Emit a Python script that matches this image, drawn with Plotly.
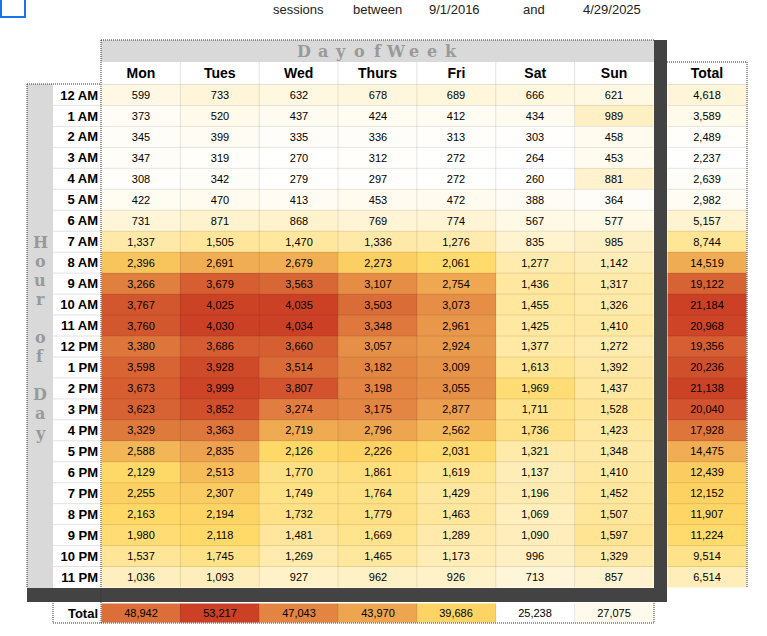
import numpy as np
import plotly.graph_objects as go

W, H = 767, 636

days = ["Mon", "Tues", "Wed", "Thurs", "Fri", "Sat", "Sun"]
hours = ["12 AM", "1 AM", "2 AM", "3 AM", "4 AM", "5 AM", "6 AM", "7 AM", "8 AM", "9 AM",
         "10 AM", "11 AM", "12 PM", "1 PM", "2 PM", "3 PM", "4 PM", "5 PM", "6 PM", "7 PM",
         "8 PM", "9 PM", "10 PM", "11 PM"]

mon = [599, 373, 345, 347, 308, 422, 731, 1337, 2396, 3266, 3767, 3760, 3380, 3598, 3673, 3623,
       3329, 2588, 2129, 2255, 2163, 1980, 1537, 1036]
tues = [733, 520, 399, 319, 342, 470, 871, 1505, 2691, 3679, 4025, 4030, 3686, 3928, 3999, 3852,
        3363, 2835, 2513, 2307, 2194, 2118, 1745, 1093]
wed = [632, 437, 335, 270, 279, 413, 868, 1470, 2679, 3563, 4035, 4034, 3660, 3514, 3807, 3274,
       2719, 2126, 1770, 1749, 1732, 1481, 1269, 927]
thurs = [678, 424, 336, 312, 297, 453, 769, 1336, 2273, 3107, 3503, 3348, 3057, 3182, 3198, 3175,
         2796, 2226, 1861, 1764, 1779, 1669, 1465, 962]
fri = [689, 412, 313, 272, 272, 472, 774, 1276, 2061, 2754, 3073, 2961, 2924, 3009, 3055, 2877,
       2562, 2031, 1619, 1429, 1463, 1289, 1173, 926]
sat = [666, 434, 303, 264, 260, 388, 567, 835, 1277, 1436, 1455, 1425, 1377, 1613, 1969, 1711,
       1736, 1321, 1137, 1196, 1069, 1090, 996, 713]
sun = [621, 989, 458, 453, 881, 364, 577, 985, 1142, 1317, 1326, 1410, 1272, 1392, 1437, 1528,
       1423, 1348, 1410, 1452, 1507, 1597, 1329, 857]

hour_totals = [4618, 3589, 2489, 2237, 2639, 2982, 5157, 8744, 14519, 19122, 21184, 20968,
               19356, 20236, 21138, 20040, 17928, 14475, 12439, 12152, 11907, 11224, 9514, 6514]
day_totals = [48942, 53217, 47043, 43970, 39686, 25238, 27075]

top_words = ["sessions", "between", "9/1/2016", "and", "4/29/2025"]
col_title = "Day of Week"
row_title = "Hour of Day"

# ---------------- layout geometry (pixels) ----------------
def X(px):
    return px / W

def Y(py):
    return 1 - py / H

GRID_L, GRID_R = 101, 654
GRID_T, GRID_B = 84, 588
TOT_L, TOT_R = 667, 747
TROW_T, TROW_B = 603, 623
PANEL_L, LABEL_L = 27, 53

scale = [[0, "#ffffff"], [0.5, "#ffd966"], [1, "#cc4125"]]
cell_font = dict(family="Liberation Sans, Arial, sans-serif", size=11, color="black")
bold_font = dict(family="Liberation Sans, Arial, sans-serif", size=13, color="black", weight="bold")
head_font = dict(family="Liberation Sans Narrow, Arial Narrow, Liberation Sans, sans-serif",
                 size=14, color="black", weight="bold")

z_main = np.array([mon, tues, wed, thurs, fri, sat, sun]).T

fig = go.Figure()
fig.add_trace(go.Heatmap(
    z=z_main, x=days, y=hours, xaxis="x", yaxis="y",
    colorscale=scale, zmin=z_main.min(), zmax=z_main.max(), showscale=False,
    texttemplate="%{z:,}", textfont=cell_font, hoverinfo="skip"))
fig.add_trace(go.Heatmap(
    z=[[v] for v in hour_totals], x=["Total"], y=hours, xaxis="x2", yaxis="y",
    colorscale=scale, zmin=min(hour_totals), zmax=max(hour_totals), showscale=False,
    texttemplate="%{z:,}", textfont=cell_font, hoverinfo="skip"))
fig.add_trace(go.Heatmap(
    z=[day_totals], x=days, y=["Total"], xaxis="x", yaxis="y2",
    colorscale=scale, zmin=min(day_totals), zmax=max(day_totals), showscale=False,
    texttemplate="%{z:,}", textfont=cell_font, hoverinfo="skip"))

shapes = []
def rect(x0, y0, x1, y1, fill, layer="below"):
    shapes.append(dict(type="rect", xref="paper", yref="paper", x0=X(x0), x1=X(x1),
                       y0=Y(y1), y1=Y(y0), fillcolor=fill, line=dict(width=0), layer=layer))

def dotted(x0, y0, x1, y1):
    shapes.append(dict(type="line", xref="paper", yref="paper", x0=X(x0), x1=X(x1),
                       y0=Y(y0), y1=Y(y1), line=dict(color="#333333", width=1, dash="1px,1px"),
                       layer="above"))

# blue selection box (top-left)
shapes.append(dict(type="rect", xref="paper", yref="paper", x0=X(1), x1=X(25), y0=Y(17), y1=Y(-5),
                   fillcolor="rgba(0,0,0,0)", line=dict(color="#1a73e8", width=2)))
# grey title bands
rect(GRID_L, 40, GRID_R, 62, "#d9d9d9")
rect(PANEL_L, GRID_T, LABEL_L, GRID_B, "#d9d9d9")
# dark separators
rect(GRID_R, 40, TOT_L, 602, "#434343", layer="above")
rect(PANEL_L, GRID_B, TOT_L, 602, "#434343", layer="above")

# cell grid lines through the axes
grid_col = "rgba(0,0,0,0.10)"
for i in range(len(days) - 1):
    shapes.append(dict(type="line", xref="x", yref="y", x0=i + 0.5, x1=i + 0.5, y0=-0.5,
                       y1=len(hours) - 0.5, line=dict(color=grid_col, width=1), layer="above"))
    shapes.append(dict(type="line", xref="x", yref="y2", x0=i + 0.5, x1=i + 0.5, y0=-0.5,
                       y1=0.5, line=dict(color=grid_col, width=1), layer="above"))
    shapes.append(dict(type="line", xref="x", yref="paper", x0=i + 0.5, x1=i + 0.5, y0=Y(GRID_T),
                       y1=Y(62), line=dict(color="#e2e2e2", width=1), layer="below"))
for j in range(len(hours) - 1):
    shapes.append(dict(type="line", xref="x", yref="y", x0=-0.5, x1=len(days) - 0.5, y0=j + 0.5,
                       y1=j + 0.5, line=dict(color=grid_col, width=1), layer="above"))
    shapes.append(dict(type="line", xref="x2", yref="y", x0=-0.5, x1=0.5, y0=j + 0.5,
                       y1=j + 0.5, line=dict(color=grid_col, width=1), layer="above"))
    shapes.append(dict(type="line", xref="paper", yref="y", x0=X(LABEL_L), x1=X(GRID_L),
                       y0=j + 0.5, y1=j + 0.5, line=dict(color="#e2e2e2", width=1), layer="below"))
shapes.append(dict(type="line", xref="x", yref="y", x0=-0.5, x1=len(days) - 0.5, y0=-0.5,
                   y1=-0.5, line=dict(color=grid_col, width=1), layer="above"))
shapes.append(dict(type="line", xref="x2", yref="y", x0=-0.5, x1=0.5, y0=-0.5, y1=-0.5,
                   line=dict(color=grid_col, width=1), layer="above"))

# dotted borders
dotted(GRID_L, 40, GRID_R, 40)
dotted(GRID_L, 40, GRID_L, TROW_B)
dotted(PANEL_L, GRID_T, GRID_L, GRID_T)
dotted(PANEL_L, GRID_T, PANEL_L, GRID_B)
dotted(TOT_L, 62, TOT_R, 62)
dotted(TOT_R, 62, TOT_R, GRID_B)
dotted(LABEL_L, TROW_T, LABEL_L, TROW_B)
dotted(LABEL_L, TROW_B, GRID_R, TROW_B)
dotted(GRID_R, TROW_T, GRID_R, TROW_B)

annotations = []
# top words
word_x = [298, 377, 454, 534, 612]
for wx, word in zip(word_x, top_words):
    annotations.append(dict(text=word, x=X(wx), y=Y(9), xref="paper", yref="paper",
                            showarrow=False, xanchor="center", yanchor="middle",
                            font=dict(family="Liberation Sans, Arial, sans-serif", size=13,
                                      color="#222222")))
# "Day of Week" letter-spaced header
title_font = dict(family="DejaVu Serif, Liberation Serif, serif", size=16, color="#999999",
                  weight="bold")
letters = [c for c in col_title if c != " "]
pitch = 18.3
cx = (GRID_L + GRID_R) / 2
for k, c in enumerate(letters):
    annotations.append(dict(text=c, x=X(cx + (k - (len(letters) - 1) / 2) * pitch), y=Y(51),
                            xref="paper", yref="paper", showarrow=False, xanchor="center",
                            yanchor="middle", font=title_font))
# vertical "Hour of Day"
vchars = list(row_title)
vpitch = 19.1
for k, c in enumerate(vchars):
    if c == " ":
        continue
    annotations.append(dict(text=c, x=X((PANEL_L + LABEL_L) / 2), y=Y(242 + k * vpitch),
                            xref="paper", yref="paper", showarrow=False, xanchor="center",
                            yanchor="middle", font=title_font))

fig.update_layout(
    width=W, height=H, margin=dict(l=0, r=0, t=0, b=0),
    paper_bgcolor="white", plot_bgcolor="white",
    shapes=shapes, annotations=annotations, showlegend=False,
    xaxis=dict(domain=[X(GRID_L), X(GRID_R)], anchor="y", side="top", type="category",
               categoryarray=days, tickfont=head_font, ticks="", showgrid=False,
               zeroline=False, showline=False, fixedrange=True, ticklabelstandoff=2),
    xaxis2=dict(domain=[X(TOT_L), X(TOT_R)], anchor="y", side="top", type="category",
                tickfont=head_font, ticks="", showgrid=False, zeroline=False,
                showline=False, fixedrange=True, ticklabelstandoff=2),
    yaxis=dict(domain=[Y(GRID_B), Y(GRID_T)], anchor="x", type="category",
               categoryarray=hours, autorange="reversed", tickfont=bold_font, ticks="",
               showgrid=False, zeroline=False, showline=False, fixedrange=True,
               ticklabelstandoff=2),
    yaxis2=dict(domain=[Y(TROW_B), Y(TROW_T)], anchor="x", type="category",
                tickfont=bold_font, ticks="", showgrid=False, zeroline=False,
                showline=False, fixedrange=True, ticklabelstandoff=2),
)

fig.write_html("out.html", config={"displayModeBar": False, "responsive": False},
               post_script="document.body.style.margin='0';")
